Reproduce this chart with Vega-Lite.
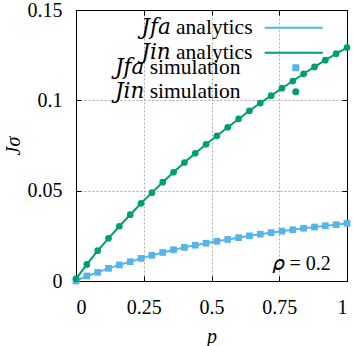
{
  "$schema": "https://vega.github.io/schema/vega-lite/v6.json",
  "width": 271,
  "height": 271,
  "autosize": {"type": "none"},
  "padding": {"left": 76, "top": 10, "right": 6, "bottom": 65},
  "config": {
    "font": "Liberation Serif",
    "view": {"stroke": "black", "strokeWidth": 1},
    "axis": {
      "labelFont": "Liberation Serif",
      "labelFontSize": 20,
      "labelColor": "black",
      "titleFont": "Liberation Serif",
      "titleFontSize": 20,
      "titleColor": "black",
      "titleFontWeight": "normal",
      "titleFontStyle": "italic",
      "domainColor": "black",
      "tickColor": "black",
      "tickSize": -5,
      "gridColor": "#aaaaaa",
      "gridDash": [2, 2],
      "gridWidth": 1
    },
    "legend": {
      "labelFont": "Liberation Serif, DejaVu Serif",
      "labelFontSize": 21.5,
      "labelColor": "black",
      "labelLimit": 400
    }
  },
  "data": {
    "values": [
      {"p": 0.00, "J": 0.0000, "curve": "fa"},
      {"p": 0.04, "J": 0.0028, "curve": "fa"},
      {"p": 0.08, "J": 0.0048, "curve": "fa"},
      {"p": 0.12, "J": 0.0070, "curve": "fa"},
      {"p": 0.16, "J": 0.0089, "curve": "fa"},
      {"p": 0.20, "J": 0.0107, "curve": "fa"},
      {"p": 0.24, "J": 0.0125, "curve": "fa"},
      {"p": 0.28, "J": 0.0142, "curve": "fa"},
      {"p": 0.32, "J": 0.0158, "curve": "fa"},
      {"p": 0.36, "J": 0.0173, "curve": "fa"},
      {"p": 0.40, "J": 0.0186, "curve": "fa"},
      {"p": 0.44, "J": 0.0198, "curve": "fa"},
      {"p": 0.48, "J": 0.0209, "curve": "fa"},
      {"p": 0.52, "J": 0.0220, "curve": "fa"},
      {"p": 0.56, "J": 0.0230, "curve": "fa"},
      {"p": 0.60, "J": 0.0240, "curve": "fa"},
      {"p": 0.64, "J": 0.0250, "curve": "fa"},
      {"p": 0.68, "J": 0.0259, "curve": "fa"},
      {"p": 0.72, "J": 0.0268, "curve": "fa"},
      {"p": 0.76, "J": 0.0276, "curve": "fa"},
      {"p": 0.80, "J": 0.0284, "curve": "fa"},
      {"p": 0.84, "J": 0.0292, "curve": "fa"},
      {"p": 0.88, "J": 0.0299, "curve": "fa"},
      {"p": 0.92, "J": 0.0306, "curve": "fa"},
      {"p": 0.96, "J": 0.0312, "curve": "fa"},
      {"p": 1.00, "J": 0.0319, "curve": "fa"},
      {"p": 0.00, "J": 0.0012, "curve": "in"},
      {"p": 0.04, "J": 0.0092, "curve": "in"},
      {"p": 0.08, "J": 0.0168, "curve": "in"},
      {"p": 0.12, "J": 0.0236, "curve": "in"},
      {"p": 0.16, "J": 0.0303, "curve": "in"},
      {"p": 0.20, "J": 0.0367, "curve": "in"},
      {"p": 0.24, "J": 0.0430, "curve": "in"},
      {"p": 0.28, "J": 0.0489, "curve": "in"},
      {"p": 0.32, "J": 0.0547, "curve": "in"},
      {"p": 0.36, "J": 0.0602, "curve": "in"},
      {"p": 0.40, "J": 0.0656, "curve": "in"},
      {"p": 0.44, "J": 0.0707, "curve": "in"},
      {"p": 0.48, "J": 0.0757, "curve": "in"},
      {"p": 0.52, "J": 0.0804, "curve": "in"},
      {"p": 0.56, "J": 0.0851, "curve": "in"},
      {"p": 0.60, "J": 0.0897, "curve": "in"},
      {"p": 0.64, "J": 0.0942, "curve": "in"},
      {"p": 0.68, "J": 0.0985, "curve": "in"},
      {"p": 0.72, "J": 0.1026, "curve": "in"},
      {"p": 0.76, "J": 0.1067, "curve": "in"},
      {"p": 0.80, "J": 0.1107, "curve": "in"},
      {"p": 0.84, "J": 0.1147, "curve": "in"},
      {"p": 0.88, "J": 0.1185, "curve": "in"},
      {"p": 0.92, "J": 0.1222, "curve": "in"},
      {"p": 0.96, "J": 0.1258, "curve": "in"},
      {"p": 1.00, "J": 0.1292, "curve": "in"}
    ]
  },
  "resolve": {"axis": {"x": "independent", "y": "independent"}},
  "layer": [
    {
      "mark": {"type": "line", "strokeWidth": 2},
      "encoding": {
        "x": {
          "field": "p", "type": "quantitative",
          "scale": {"domain": [0, 1], "nice": false},
          "axis": {"values": [0, 0.25, 0.5, 0.75, 1], "format": ".2~f", "grid": true, "labelPadding": 21, "title": "p", "titlePadding": 9}
        },
        "y": {
          "field": "J", "type": "quantitative",
          "scale": {"domain": [0, 0.15], "nice": false},
          "axis": {"values": [0, 0.05, 0.1, 0.15], "format": ".2~f", "grid": true, "labelPadding": 19, "title": "Jσ", "titlePadding": 4}
        },
        "stroke": {
          "field": "curve", "type": "nominal",
          "scale": {"domain": ["fa", "in"], "range": ["#56b4e9", "#009e73"]},
          "legend": {
            "orient": "none", "legendX": 172, "legendY": 7, "title": null, "padding": 0,
            "symbolType": "M-5,0H5", "symbolSize": 135, "symbolStrokeWidth": 2,
            "labelAlign": "right", "labelOffset": -52, "symbolOffset": 35,
            "rowPadding": 2,
            "labelExpr": "datum.value == 'fa' ? '𝐽𝑓𝑎 analytics' : '𝐽𝑖𝑛 analytics'"
          }
        }
      }
    },
    {
      "mark": {"type": "point", "filled": true, "opacity": 1, "size": 45},
      "encoding": {
        "x": {"field": "p", "type": "quantitative", "axis": {"orient": "top", "values": [0, 0.25, 0.5, 0.75, 1], "labels": false, "grid": false, "title": null}},
        "y": {"field": "J", "type": "quantitative", "axis": {"orient": "right", "values": [0, 0.05, 0.1, 0.15], "labels": false, "grid": false, "title": null}},
        "color": {
          "field": "curve", "type": "nominal",
          "scale": {"range": ["#56b4e9", "#009e73"]},
          "legend": {
            "orient": "none", "legendX": 209, "legendY": 47, "title": null, "padding": 0,
            "symbolSize": 49,
            "labelAlign": "right", "labelOffset": -66, "symbolOffset": 0,
            "rowPadding": 1,
            "labelExpr": "datum.value == 'fa' ? '𝐽𝑓𝑎 simulation' : '𝐽𝑖𝑛 simulation'"
          }
        },
        "shape": {
          "field": "curve", "type": "nominal",
          "scale": {"range": ["square", "circle"]},
          "legend": {
            "orient": "none", "legendX": 209, "legendY": 47, "title": null, "padding": 0,
            "symbolSize": 49,
            "labelAlign": "right", "labelOffset": -66, "symbolOffset": 0,
            "rowPadding": 1,
            "labelExpr": "datum.value == 'fa' ? '𝐽𝑓𝑎 simulation' : '𝐽𝑖𝑛 simulation'"
          }
        }
      }
    },
    {
      "data": {"values": [{"note": "𝜌 = 0.2"}]},
      "mark": {"type": "text", "align": "right", "baseline": "middle", "fontSize": 20, "font": "Liberation Serif, DejaVu Serif", "fontWeight": "normal", "fill": "black"},
      "encoding": {
        "text": {"field": "note"},
        "x": {"datum": 0.94, "type": "quantitative", "axis": null},
        "y": {"datum": 0.0094, "type": "quantitative", "axis": null}
      }
    }
  ]
}
